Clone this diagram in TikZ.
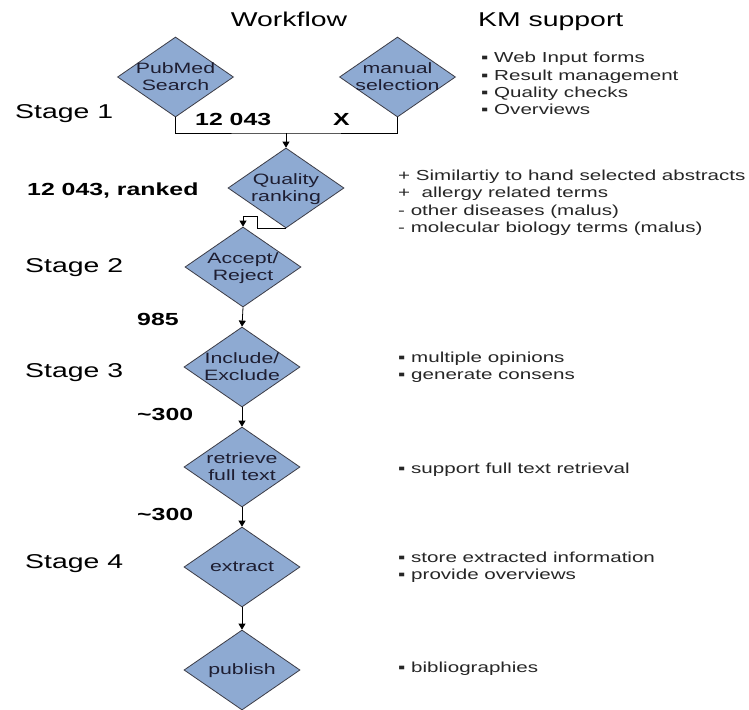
\documentclass[tikz,border=0pt]{standalone}
\usepackage{fontspec}
\setmainfont[FakeStretch=1.42]{Liberation Sans}
\usetikzlibrary{shapes.geometric,arrows.meta}
\definecolor{dfill}{RGB}{142,170,210}
\definecolor{dline}{RGB}{60,60,70}
\definecolor{dtext}{RGB}{30,30,50}
\newcommand{\dlab}[2]{\makebox[0pt]{\smash{\raisebox{-5pt}{\begin{tabular}{@{}c@{}}#1\\#2\end{tabular}}}}}
\newcommand{\slab}[1]{\makebox[0pt]{\smash{\raisebox{-4pt}{#1}}}}
\tikzset{
  dia/.style={diamond, draw=dline, fill=dfill, line width=0.8pt, minimum width=116pt, minimum height=80pt, inner sep=0pt, font=\fontsize{15}{17}\selectfont, text=dtext},
  hdr/.style={inner sep=0pt, font=\fontsize{20}{24}\selectfont},
  stg/.style={inner sep=0pt, font=\fontsize{20}{24}\selectfont, anchor=base west},
  num/.style={inner sep=0pt, font=\fontsize{17.5}{21}\selectfont\bfseries, anchor=base west},
  rt/.style={inner sep=0pt, font=\fontsize{14.5}{17.5}\selectfont, anchor=base west, text=black!85},
  lnk/.style={line width=0.8pt, black},
  arr/.style={lnk, -{Triangle[length=6pt,width=7pt]}}
}
\begin{document}
\begin{tikzpicture}[x=1pt,y=-1pt]
\fill[white] (0,0) rectangle (749,709);
\useasboundingbox (0,0) rectangle (749,709);

% headers
\node[hdr, anchor=base] (wf) at (289,27) {Workflow};
\node[hdr, anchor=base west] (km) at (478,27) {KM support};

% diamonds
\node[dia] (pub) at (175.5,77) {\dlab{PubMed}{Search}};
\node[dia] (man) at (397.5,77) {\dlab{manual}{selection}};
\node[dia] (qual) at (286,188) {\dlab{Quality}{ranking}};
\node[dia] (acc) at (243,267) {\dlab{Accept/}{Reject}};
\node[dia] (inc) at (242,367) {\dlab{Include/}{Exclude}};
\node[dia] (ret) at (242,467) {\dlab{retrieve}{full text}};
\node[dia] (ext) at (242,567) {\slab{extract}};
\node[dia] (pbl) at (242,670) {\slab{publish}};

% connectors
\coordinate (j) at (286,133);
\coordinate (k) at (257,216);
\draw[lnk] (pub.south) |- (j) -| (man.south);
\draw[arr] (j) -- (qual.north);
\draw[arr] (qual.south) -| (k) -| (acc.north);
\draw[arr] (acc.south) -- (inc.north);
\draw[arr] (inc.south) -- (ret.north);
\draw[arr] (ret.south) -- (ext.north);
\draw[arr] (ext.south) -- (pbl.north);

% left labels
\node[stg] (s1) at (15,118) {Stage 1};
\node[num] (n1) at (195,125) {12 043};
\node[num] (x1) at (333,125) {X};
\node[num] (n2) at (27,195) {12 043, ranked};
\node[stg] (s2) at (25,272) {Stage 2};
\node[num] (n3) at (137,325) {985};
\node[stg] (s3) at (25,377) {Stage 3};
\node[num] (n4) at (137,420) {\textasciitilde300};
\node[num] (n5) at (137,520) {\textasciitilde300};
\node[stg] (s4) at (25,568) {Stage 4};

% right texts
\foreach \t [count=\i] in {Web Input forms, Result management, Quality checks, Overviews}
  \node[rt] (w\i) at (481,{63+17*(\i-1)}) {▪ \t};
\node[rt] (q1) at (398,180) {+ Similartiy to hand selected abstracts};
\node[rt] (q2) at (398,197) {+ \ allergy related terms};
\node[rt] (q3) at (398,215) {- other diseases (malus)};
\node[rt] (q4) at (398,232) {- molecular biology terms (malus)};
\node[rt] (m1) at (398,362) {▪ multiple opinions};
\node[rt] (m2) at (398,379) {▪ generate consens};
\node[rt] (f1) at (398,473) {▪ support full text retrieval};
\node[rt] (e1) at (398,562) {▪ store extracted information};
\node[rt] (e2) at (398,579) {▪ provide overviews};
\node[rt] (b1) at (398,672) {▪ bibliographies};
\end{tikzpicture}
\end{document}
